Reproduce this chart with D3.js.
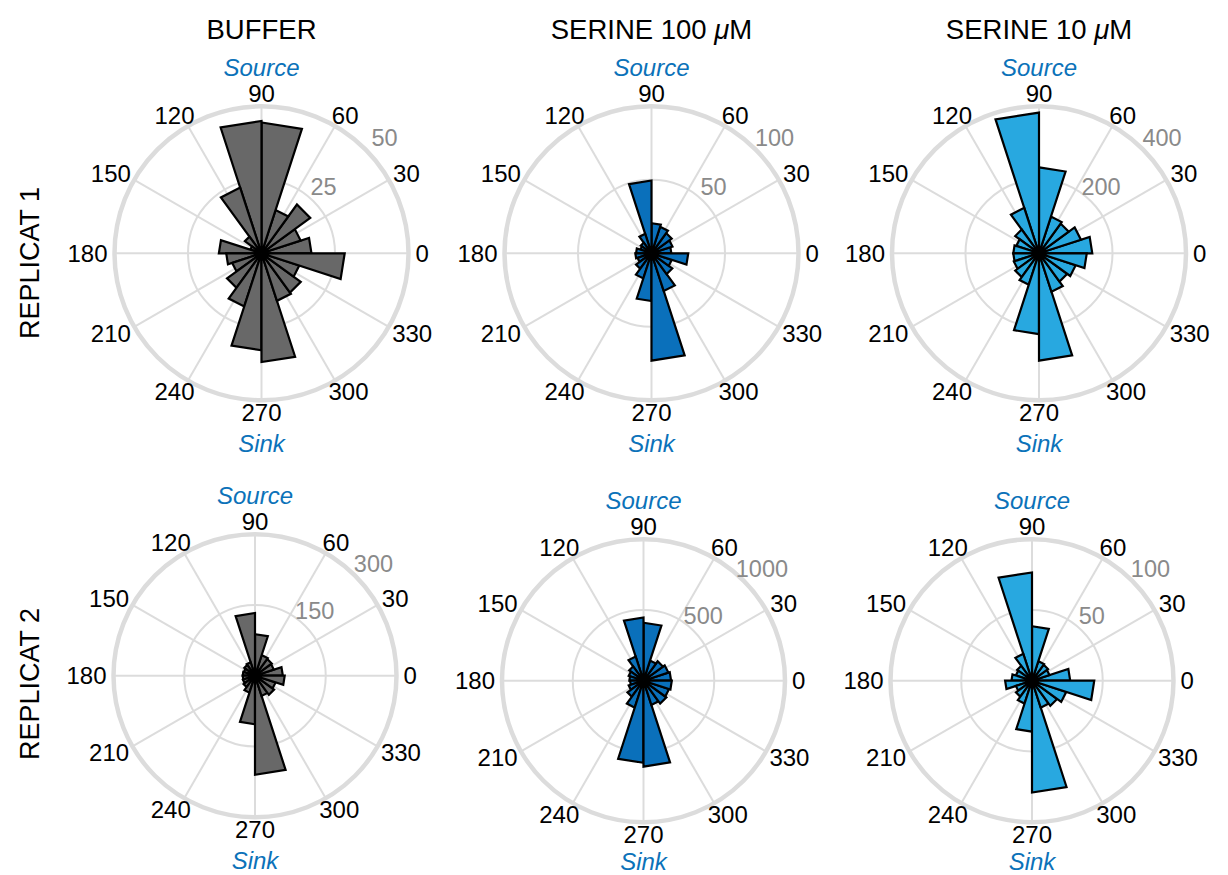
<!DOCTYPE html>
<html>
<head>
<meta charset="utf-8">
<script src="https://cdn.jsdelivr.net/npm/d3@7"></script>
<style>
  body { margin: 0; background: #fff; }
  text { font-family: "Liberation Sans", Arial, Helvetica, sans-serif; }
</style>
</head>
<body>
<div id="chart"></div>
<script>
// Bins de 18 grados, empezando en 0 (sentido antihorario)
const binWidth = 18;
const thetaTicks = [0, 30, 60, 90, 120, 150, 180, 210, 240, 270, 300, 330];

const columnTitles = ["BUFFER", "SERINE 100 ", "SERINE 10 "];
const rowLabels = ["REPLICAT 1", "REPLICAT 2"];

// Conteos por bin (0-18, 18-36, ..., 342-360)
const bufferRep1     = [17, 14, 20.5, 15.5, 44.5, 45, 23.5, 7, 4, 14.5, 12, 10.5, 14.5, 19, 33, 37, 17, 16.5, 13.5, 28.3];
const serine100Rep1  = [13.5, 15, 17, 19, 20.5, 49.5, 14, 9, 8, 10.5, 11, 10, 13, 18, 32.5, 73, 27, 17.5, 14.5, 25];
const serine10Rep1   = [145, 120, 100, 105, 234, 383, 130, 80, 65, 70, 70, 72, 80, 90, 220, 292, 110, 95, 105, 130];
const bufferRep2     = [59, 42, 44, 46, 88, 133, 30, 28, 25, 26, 26, 27, 30, 38, 103, 210, 45, 50, 46, 63];
const serine100Rep2  = [195, 185, 170, 150, 410, 447, 180, 125, 110, 100, 95, 110, 140, 200, 580, 607, 180, 200, 190, 200];
const serine10Rep2   = [27, 13, 14, 14.5, 38.5, 76.5, 20, 13, 12, 14.5, 19, 12, 14, 17, 36, 79, 20, 22, 25.5, 44];

// Marcas del eje radial de cada panel
const rTicksRep1 = [[25, 50], [50, 100], [200, 400]];
const rTicksRep2 = [[150, 300], [500, 1000], [50, 100]];

const panels = [
    { values: bufferRep1,    ticks: rTicksRep1[0], row: 0, col: 0 },
    { values: serine100Rep1, ticks: rTicksRep1[1], row: 0, col: 1 },
    { values: serine10Rep1,  ticks: rTicksRep1[2], row: 0, col: 2 },
    { values: bufferRep2,    ticks: rTicksRep2[0], row: 1, col: 0 },
    { values: serine100Rep2, ticks: rTicksRep2[1], row: 1, col: 1 },
    { values: serine10Rep2,  ticks: rTicksRep2[2], row: 1, col: 2 }
];

// Layout
const width = 1228, height = 875;
const colors = ["#686868", "#0a70bb", "#28a8e0"];
const centers = [
    [[261.5, 253.3], [651.5, 253.3], [1039, 253.3]],
    [[255, 675.7], [643.5, 680.7], [1032, 680.7]]
];
const radius = [147, 141.5];
const gridColor = "#dcdcdc";
const blueText = "#0b72b9";

const svg = d3.select("#chart")
    .append("svg")
    .attr("width", width)
    .attr("height", height)
    .style("background", "#fff");

// Títulos de columna
columnTitles.forEach((t, i) => {
    const txt = svg.append("text")
        .attr("x", centers[0][i][0])
        .attr("y", 39)
        .attr("text-anchor", "middle")
        .attr("font-size", "27.5px")
        .attr("fill", "#000")
        .text(t);
    if (i > 0) {
        txt.append("tspan").attr("font-style", "italic").text("\u03bc");
        txt.append("tspan").text("M");
    }
});

// Etiquetas de fila
rowLabels.forEach((t, i) => {
    const cy = i === 0 ? 263 : 684;
    svg.append("text")
        .attr("transform", `translate(30, ${cy}) rotate(-90)`)
        .attr("text-anchor", "middle")
        .attr("dominant-baseline", "central")
        .attr("font-size", "27px")
        .text(t);
});

panels.forEach(p => {
    const [cx, cy] = centers[p.row][p.col];
    const R = radius[p.row];
    const rMax = p.ticks[p.ticks.length - 1];

    const r = d3.scaleLinear().domain([0, rMax]).range([0, R]);
    // ángulo matemático (grados, antihorario desde el este) -> ángulo de d3.lineRadial
    const a = d3.scaleLinear().domain([0, 360]).range([Math.PI / 2, Math.PI / 2 - 2 * Math.PI]);

    const g = svg.append("g").attr("transform", `translate(${cx}, ${cy})`);

    // Rejilla: radios
    g.selectAll("line.spoke")
        .data(thetaTicks)
        .enter()
        .append("line")
        .attr("x1", 0).attr("y1", 0)
        .attr("x2", d => R * Math.cos(d * Math.PI / 180))
        .attr("y2", d => -R * Math.sin(d * Math.PI / 180))
        .attr("stroke", gridColor)
        .attr("stroke-width", 2);

    // Rejilla: círculos
    g.selectAll("circle.ring")
        .data(p.ticks)
        .enter()
        .append("circle")
        .attr("r", d => r(d))
        .attr("fill", "none")
        .attr("stroke", gridColor)
        .attr("stroke-width", (d, i) => i === p.ticks.length - 1 ? 4.5 : 2);

    // Barras del histograma polar
    const wedge = d3.lineRadial()
        .angle(d => a(d.t))
        .radius(d => r(d.v))
        .curve(d3.curveLinearClosed);

    g.selectAll("path.bar")
        .data(p.values)
        .enter()
        .append("path")
        .attr("d", (v, i) => wedge([
            { t: i * binWidth, v: 0 },
            { t: i * binWidth, v: v },
            { t: (i + 1) * binWidth, v: v }
        ]))
        .attr("fill", colors[p.col])
        .attr("stroke", "#000")
        .attr("stroke-width", 2.2)
        .attr("stroke-linejoin", "miter");

    // Etiquetas del eje radial
    g.selectAll("text.rtick")
        .data(p.ticks)
        .enter()
        .append("text")
        .attr("x", d => 0.83 * r(d) + 1)
        .attr("y", d => -0.66 * r(d) - 18)
        .attr("text-anchor", "middle")
        .attr("dominant-baseline", "central")
        .attr("font-size", "23.5px")
        .attr("fill", "#8a8a8a")
        .text(d => d);

    // Etiquetas angulares
    thetaTicks.forEach(t => {
        const rad = t * Math.PI / 180;
        const lab = g.append("text")
            .attr("text-anchor", "middle")
            .attr("dominant-baseline", "central")
            .attr("font-size", "24px")
            .attr("fill", "#000")
            .text(t);
        const w = lab.node().getComputedTextLength();
        const h = 17;
        const x = (R + 4) * Math.cos(rad) + Math.cos(rad) * (w / 2 + 3);
        const y = -(R + 4) * Math.sin(rad) - Math.sin(rad) * (h / 2);
        lab.attr("x", x).attr("y", y);
    });

    // Source / Sink
    g.append("text")
        .attr("x", 0)
        .attr("y", -R - 39)
        .attr("text-anchor", "middle")
        .attr("dominant-baseline", "central")
        .attr("font-size", "24px")
        .attr("font-style", "italic")
        .attr("fill", blueText)
        .text("Source");

    g.append("text")
        .attr("x", 0)
        .attr("y", Math.min(R + 43, height - 13 - cy))
        .attr("text-anchor", "middle")
        .attr("dominant-baseline", "central")
        .attr("font-size", "24px")
        .attr("font-style", "italic")
        .attr("fill", blueText)
        .text("Sink");
});
</script>
</body>
</html>
